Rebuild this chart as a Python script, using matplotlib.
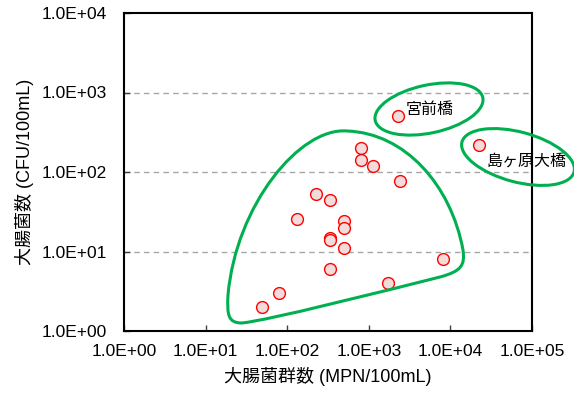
import numpy as np
import matplotlib
matplotlib.use("Agg")
import matplotlib.pyplot as plt
from matplotlib.patches import Ellipse, PathPatch
from matplotlib.path import Path
from matplotlib.ticker import FixedLocator, FuncFormatter

plt.rcParams['font.family'] = ['Liberation Sans', 'Noto Sans CJK JP', 'DejaVu Sans']

# 大腸菌群数 (x) と 大腸菌数 (y)
coliform = [49, 79, 131, 223, 334, 492, 492, 334, 334, 492, 334,
            802, 802, 1117, 2430, 1735, 8110, 2260, 22600]
ecoli = [2.0, 3.0, 26, 53, 44, 24, 20, 15, 14, 11, 6.0,
         200, 140, 120, 77, 4.0, 8.0, 500, 219]

labels = ['宮前橋', '島ヶ原大橋']
label_x = [5600, 85000]
label_y = [620, 134]

xticks = [1e0, 1e1, 1e2, 1e3, 1e4, 1e5]
yticks = [1e0, 1e1, 1e2, 1e3, 1e4]

green = '#00B050'

fig = plt.figure(figsize=(5.74, 3.96), dpi=100)
ax = fig.add_axes([124/574, 1-331/396, 408/574, 318/396])

ax.set_xscale('log')
ax.set_yscale('log')
ax.set_xlim(1, 1e5)
ax.set_ylim(1, 1e4)

for v in yticks[1:-1]:
    ax.axhline(v, color='#A6A6A6', lw=1, ls=(0, (4, 3)), zorder=1)

ax.plot(coliform, ecoli, 'o', ms=8.5, mfc='#F2DCDB', mec='#FF0000',
        mew=1.0, zorder=3, clip_on=False)

for t, x, y in zip(labels, label_x, label_y):
    ax.text(x, y, t, ha='center', va='center', fontsize=11.5, zorder=4,
            clip_on=False)

fmt = FuncFormatter(lambda v, p: '%.1fE+%02d' % (1.0, int(round(np.log10(v)))))
ax.xaxis.set_major_locator(FixedLocator(xticks))
ax.yaxis.set_major_locator(FixedLocator(yticks))
ax.xaxis.set_major_formatter(fmt)
ax.yaxis.set_major_formatter(fmt)
ax.minorticks_off()
ax.tick_params(direction='in', length=4, width=1, labelsize=12.5, color='#404040')
ax.tick_params(axis='x', pad=9)
ax.tick_params(axis='y', pad=12)
for s in ax.spines.values():
    s.set_linewidth(1.5)

ax.set_xlabel('大腸菌群数 (MPN/100mL)', fontsize=13, labelpad=6)
ax.set_ylabel('大腸菌数 (CFU/100mL)', fontsize=13, labelpad=6)

# 囲み線 (ピクセル座標 -> インチ)
def inch(px, py):
    return (px / 100.0, (396 - py) / 100.0)

tr = fig.dpi_scale_trans
fig.patches.append(Ellipse(inch(429, 109), 1.10, 0.48, angle=12, fill=False,
                           ec=green, lw=2.2, transform=tr))
fig.patches.append(Ellipse(inch(518, 157), 1.16, 0.50, angle=-15, fill=False,
                           ec=green, lw=2.2, transform=tr))

pts = [(347, 131), (300, 127), (236, 205), (228, 295),
       (227, 315), (228, 323), (242, 323),
       (270, 320), (380, 292), (440, 277),
       (462, 271), (465, 265), (463, 250),
       (451, 185), (405, 133), (347, 131)]
codes = [Path.MOVETO] + [Path.CURVE4] * 15
blob = Path([inch(*p) for p in pts], codes)
fig.patches.append(PathPatch(blob, fill=False, ec=green, lw=2.2, transform=tr))

fig.savefig('out.png', dpi=100)
